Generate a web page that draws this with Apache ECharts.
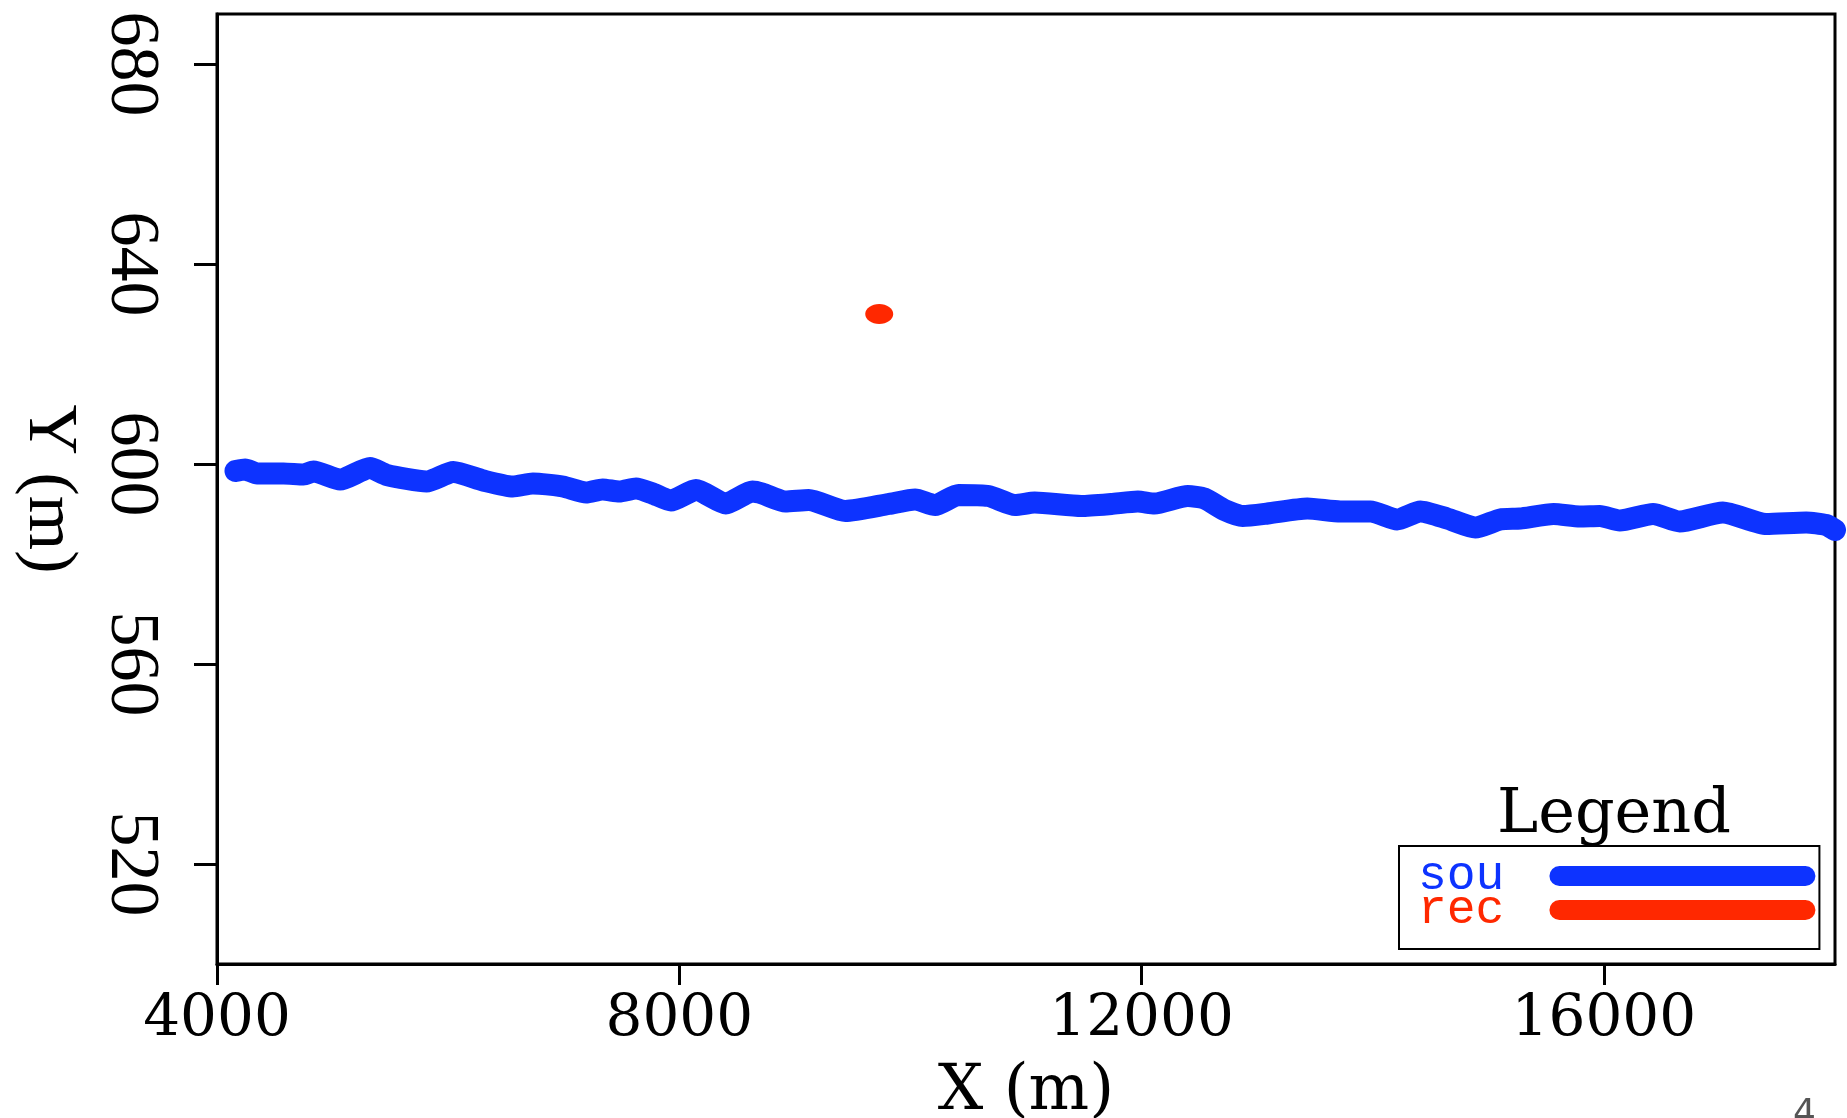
<!DOCTYPE html>
<html>
<head>
<meta charset="utf-8">
<title>sou / rec</title>
<script src="https://cdn.jsdelivr.net/npm/echarts@6/dist/echarts.min.js"></script>
<style>
  html, body { margin: 0; padding: 0; background: #ffffff; }
  #main { width: 1847px; height: 1118px; }
</style>
</head>
<body>
<div id="main"></div>
<script>
// source line (sou)
var souX = [4160, 4244, 4346, 4576, 4749, 4835, 5065, 5324, 5469, 5814,
    6045, 6304, 6560, 6733, 6992, 7194, 7337, 7481, 7626, 7769,
    7928, 8144, 8403, 8633, 8717, 8918, 9120, 9437, 9811, 10041,
    10214, 10416, 10675, 10905, 11075, 11479, 11738, 11968, 12112, 12400,
    12544, 12717, 12875, 13091, 13434, 13721, 13981, 14211, 14413, 14643,
    14888, 15104, 15276, 15565, 15792, 15965, 16138, 16426, 16656, 17030,
    17405, 17751, 17923, 18000];
var souY = [598.6, 598.9, 598.1, 598.1, 597.9, 598.5, 596.9, 599.2, 597.8, 596.5,
    598.4, 596.7, 595.5, 596.1, 595.5, 594.3, 594.9, 594.5, 595.1, 594.1,
    592.7, 594.8, 592.1, 594.5, 594.1, 592.5, 592.8, 590.6, 592.0, 592.9,
    591.8, 593.8, 593.6, 591.8, 592.3, 591.6, 592.0, 592.5, 592.1, 593.6,
    593.1, 590.8, 589.6, 590.1, 591.1, 590.5, 590.5, 588.9, 590.5, 589.1,
    587.3, 588.9, 589.1, 590.0, 589.5, 589.6, 588.7, 590.0, 588.5, 590.3,
    588.0, 588.3, 587.8, 586.8];

// receiver (rec)
var recX = [9730];
var recY = [630];

var xTicks = [4000, 8000, 12000, 16000];
var yTicks = [520, 560, 600, 640, 680];

var blue = '#0d33ff';
var red = '#ff2800';
var pill = 'path://M10,0 L256,0 A10,10 0 0 1 256,20 L10,20 A10,10 0 0 1 10,0 Z';

var dom = document.getElementById('main');
var myChart = echarts.init(dom, null, { renderer: 'canvas' });

var souData = souX.map(function (x, i) { return [x, souY[i]]; });
var recData = recX.map(function (x, i) { return [x, recY[i]]; });

var option = {
    backgroundColor: '#ffffff',
    animation: false,
    title: [
        {
            text: 'Legend',
            left: 1609,
            top: 780,
            textAlign: 'center',
            textStyle: { fontFamily: 'DejaVu Serif', fontSize: 62, fontWeight: 'normal', color: '#000' }
        },
        {
            text: '4',
            left: 1788,
            top: 1092,
            textStyle: { fontFamily: 'DejaVu Sans', fontSize: 36, fontWeight: 'normal', color: '#555' }
        }
    ],
    grid: {
        left: 217, right: 12, top: 14, bottom: 154,
        outerBoundsMode: 'none',
        containLabel: false,
        show: true, borderColor: '#000', borderWidth: 3, backgroundColor: 'transparent'
    },
    legend: {
        orient: 'vertical',
        left: 1399,
        top: 846,
        padding: [6, 4, 15, 19],
        borderColor: '#000',
        borderWidth: 2,
        align: 'right',
        itemWidth: 266,
        itemHeight: 20,
        itemGap: -14,
        itemStyle: { borderWidth: 0 },
        textStyle: { fontFamily: 'Liberation Mono', fontSize: 48, lineHeight: 30, padding: [0, 40, 0, 0] },
        data: [
            { name: 'sou', icon: pill, textStyle: { color: blue } },
            { name: 'rec', icon: pill, textStyle: { color: red } }
        ]
    },
    xAxis: {
        type: 'value',
        min: 4000,
        max: 18000,
        name: 'X (m)',
        nameLocation: 'middle',
        nameGap: 96,
        nameTextStyle: { fontFamily: 'DejaVu Serif', fontSize: 64, color: '#000' },
        axisLine: { show: true, lineStyle: { color: '#000', width: 3 } },
        axisTick: { show: true, length: 21, customValues: xTicks, lineStyle: { color: '#000', width: 3 } },
        axisLabel: {
            customValues: xTicks, margin: 27, fontFamily: 'DejaVu Serif', fontSize: 58, color: '#000',
            formatter: function (v) { return String(v); }
        },
        splitLine: { show: false }
    },
    yAxis: {
        type: 'value',
        min: 500,
        max: 690,
        name: 'Y (m)',
        nameLocation: 'middle',
        nameRotate: -90,
        nameGap: 134,
        nameTextStyle: { fontFamily: 'Liberation Serif', fontSize: 70, color: '#000' },
        axisLine: { show: true, lineStyle: { color: '#000', width: 3 } },
        axisTick: { show: true, length: 23, customValues: yTicks, lineStyle: { color: '#000', width: 3 } },
        axisLabel: {
            customValues: yTicks, rotate: -90, margin: 52, fontFamily: 'Liberation Serif', fontSize: 70, color: '#000',
            formatter: function (v) { return String(v); }
        },
        splitLine: { show: false }
    },
    series: [
        {
            name: 'sou',
            type: 'line',
            data: souData,
            showSymbol: false,
            smooth: 0.2,
            clip: true,
            itemStyle: { color: blue },
            lineStyle: { color: blue, width: 22, cap: 'round', join: 'round' }
        },
        {
            name: 'rec',
            type: 'scatter',
            data: recData,
            symbol: 'circle',
            symbolSize: [28, 20],
            itemStyle: { color: red, opacity: 1 }
        }
    ]
};

if (option && typeof option === 'object') {
    myChart.setOption(option);
}

window.addEventListener('resize', myChart.resize);
</script>
</body>
</html>
